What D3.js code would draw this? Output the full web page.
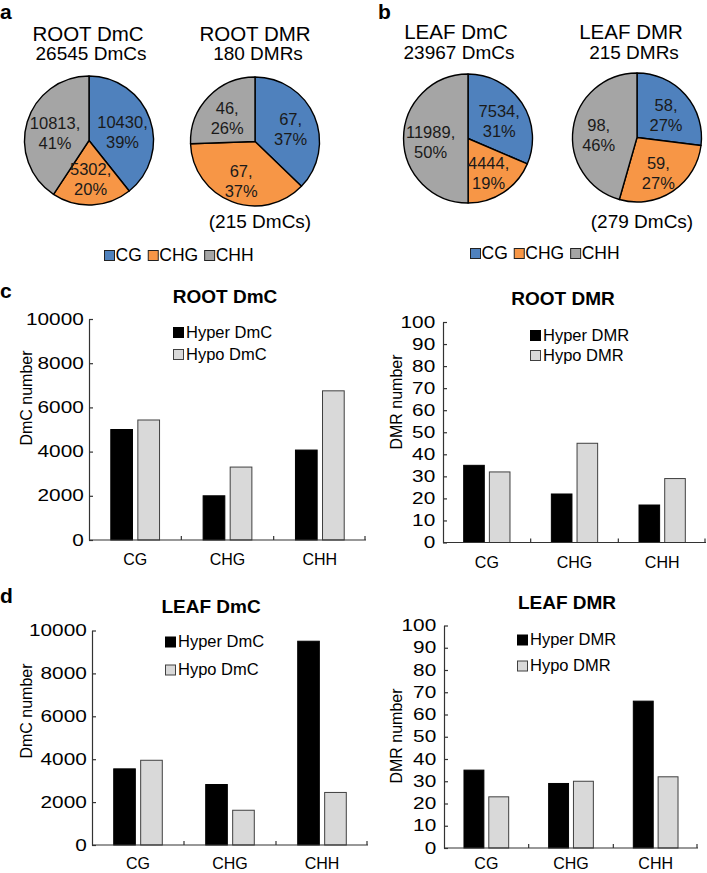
<!DOCTYPE html>
<html>
<head>
<meta charset="utf-8">
<script src="https://cdn.jsdelivr.net/npm/d3@7"></script>
<style>
  html, body { margin: 0; padding: 0; background: #fff; }
  svg { display: block; font-family: "Liberation Sans", Arial, sans-serif; }
</style>
</head>
<body>
<svg id="chart" width="707" height="873"></svg>
<script>
// ---------------- DATA ----------------
const contexts = ["CG", "CHG", "CHH"];
const pieColors = ["#4F81BD", "#F79646", "#A5A5A5"];

const rootDmCValues = [10430, 5302, 10813];
const rootDMRValues = [67, 67, 46];
const leafDmCValues = [7534, 4444, 11989];
const leafDMRValues = [58, 59, 98];

const pieTitles = ["ROOT DmC", "ROOT DMR", "LEAF DmC", "LEAF DMR"];
const pieSubtitles = ["26545 DmCs", "180 DMRs", "23967 DmCs", "215 DMRs"];
const pieNotes = ["", "(215 DmCs)", "", "(279 DmCs)"];

const rootDmCHyper = [5000, 2000, 4070];
const rootDmCHypo  = [5430, 3300, 6750];
const rootDMRHyper = [35, 22, 17];
const rootDMRHypo  = [32, 45, 29];
const leafDmCHyper = [3550, 2820, 9500];
const leafDmCHypo  = [3950, 1620, 2450];
const leafDMRHyper = [35, 29, 66];
const leafDMRHypo  = [23, 30, 32];

const dmcTicks = [0, 2000, 4000, 6000, 8000, 10000];
const dmrTicks = [0, 10, 20, 30, 40, 50, 60, 70, 80, 90, 100];

const barTitles = ["ROOT DmC", "ROOT DMR", "LEAF DmC", "LEAF DMR"];
const yLabels = ["DmC number", "DMR number", "DmC number", "DMR number"];
const dmcLegend = ["Hyper DmC", "Hypo DmC"];
const dmrLegend = ["Hyper DMR", "Hypo DMR"];
const barFill = ["#000000", "#D9D9D9"];
const barStroke = ["#000000", "#404040"];

// ---------------- DRAW ----------------
const svg = d3.select("#chart");

// panel letters
const letters = [
  {t: "a", x: 0, y: 19}, {t: "b", x: 378, y: 19},
  {t: "c", x: 0, y: 298}, {t: "d", x: 0, y: 603}
];
svg.selectAll("text.letter").data(letters).join("text")
  .attr("class", "letter")
  .attr("x", d => d.x).attr("y", d => d.y)
  .attr("font-size", 21).attr("font-weight", "bold")
  .text(d => d.t);

// ---------- pies ----------
const pieLayout = [
  {values: rootDmCValues, cx: 89,  cy: 140.5, tx: 88,  ty: 41, sy: 60, f: 0.55},
  {values: rootDMRValues, cx: 255, cy: 141.5, tx: 255, ty: 41, sy: 60, f: 0.6},
  {values: leafDmCValues, cx: 468, cy: 138.5, tx: 456, ty: 39, sy: 59, f: 0.58},
  {values: leafDMRValues, cx: 637, cy: 137.5, tx: 631, ty: 39, sy: 59, f: 0.6}
];
const R = 64.5;
const pie = d3.pie().sort(null).value(d => d);
const arc = d3.arc().innerRadius(0).outerRadius(R);

pieLayout.forEach((p, i) => {
  const g = svg.append("g");
  g.append("text").attr("x", p.tx).attr("y", p.ty)
    .attr("text-anchor", "middle").attr("font-size", 20.5).text(pieTitles[i]);
  g.append("text").attr("x", p.tx + 3).attr("y", p.sy)
    .attr("text-anchor", "middle").attr("font-size", 19).text(pieSubtitles[i]);
  const total = d3.sum(p.values);
  const arcs = pie(p.values);
  const pg = g.append("g").attr("transform", `translate(${p.cx},${p.cy})`);
  pg.selectAll("path").data(arcs).join("path")
    .attr("d", arc)
    .attr("fill", (d, j) => pieColors[j])
    .attr("stroke", "#000").attr("stroke-width", 1.4)
    .attr("stroke-linejoin", "round");
  arcs.forEach((a, j) => {
    const m = (a.startAngle + a.endAngle) / 2;
    const rl = R * p.f;
    const lx = rl * Math.sin(m), ly = -rl * Math.cos(m);
    const pct = Math.round(100 * a.data / total) + "%";
    const t = pg.append("text").attr("text-anchor", "middle")
      .attr("font-size", 16.5).attr("fill", "#1a1a1a");
    t.append("tspan").attr("x", lx).attr("y", ly - 1).text(a.data + ",");
    t.append("tspan").attr("x", lx).attr("y", ly + 19).text(pct);
  });
  if (pieNotes[i]) {
    g.append("text").attr("x", p.cx + 5).attr("y", 228)
      .attr("text-anchor", "middle").attr("font-size", 19).text(pieNotes[i]);
  }
});

// pie legends
function pieLegend(x0, y0) {
  const g = svg.append("g").attr("transform", `translate(${x0},${y0})`);
  let x = 0;
  contexts.forEach((c, j) => {
    g.append("rect").attr("x", x + 0.5).attr("y", -10.5).attr("width", 10).attr("height", 10)
      .attr("fill", pieColors[j]).attr("stroke", "#222").attr("stroke-width", 1);
    const t = g.append("text").attr("x", x + 11.5).attr("y", 0).attr("font-size", 17.5).text(c);
    x += 11.5 + t.node().getComputedTextLength() + 6;
  });
}
pieLegend(104, 261);
pieLegend(470, 259);

// ---------- bar charts ----------
const barLayout = [
  {hyper: rootDmCHyper, hypo: rootDmCHypo, ticks: dmcTicks, legend: dmcLegend,
   x0: 89, x1: 366, yTop: 319, yBot: 540, pad: 4, tX: 225, tY: 303, yl: [26, 398],
   lgX: 173, lgY: 327.5, lgDy: 22, lab: 25},
  {hyper: rootDMRHyper, hypo: rootDMRHypo, ticks: dmrTicks, legend: dmrLegend,
   x0: 443, x1: 706, yTop: 322, yBot: 542.5, pad: 6, tX: 563, tY: 305, yl: [396, 402],
   lgX: 530, lgY: 330.5, lgDy: 20, lab: 25},
  {hyper: leafDmCHyper, hypo: leafDmCHypo, ticks: dmcTicks, legend: dmcLegend,
   x0: 92, x1: 368, yTop: 630.5, yBot: 845, pad: 4, tX: 211, tY: 613, yl: [26, 711],
   lgX: 165, lgY: 637, lgDy: 28, lab: 24},
  {hyper: leafDMRHyper, hypo: leafDMRHypo, ticks: dmrTicks, legend: dmrLegend,
   x0: 444, x1: 698, yTop: 625.5, yBot: 848, pad: 6, tX: 567, tY: 609, yl: [396, 736],
   lgX: 517, lgY: 635, lgDy: 26, lab: 21}
];

barLayout.forEach((b, i) => {
  const g = svg.append("g");
  const maxV = b.ticks[b.ticks.length - 1];
  const y = d3.scaleLinear().domain([0, maxV]).range([b.yBot, b.yTop]);
  const x = d3.scaleBand().domain(contexts).range([b.x0, b.x1]).padding(0);
  const step = x.bandwidth();
  const bw = step * 0.235, gap = step * 0.058;

  // title
  g.append("text").attr("x", b.tX).attr("y", b.tY).attr("text-anchor", "middle")
    .attr("font-size", 19).attr("font-weight", "bold").text(barTitles[i]);

  // y label
  g.append("text").attr("transform", `translate(${b.yl[0]},${b.yl[1]}) rotate(-90)`)
    .attr("text-anchor", "middle").attr("dominant-baseline", "central")
    .attr("font-size", 16).text(yLabels[i]);

  // bars
  const series = [b.hyper, b.hypo];
  series.forEach((vals, s) => {
    g.append("g").selectAll("rect").data(vals).join("rect")
      .attr("x", (d, j) => x(contexts[j]) + step / 2 - gap / 2 - bw + s * (bw + gap))
      .attr("y", d => y(d))
      .attr("width", bw)
      .attr("height", d => y(0) - y(d))
      .attr("fill", barFill[s])
      .attr("stroke", barStroke[s]).attr("stroke-width", 1);
  });

  // y axis
  const ya = g.append("g").attr("transform", `translate(${b.x0},0)`)
    .call(d3.axisLeft(y).tickValues(b.ticks).tickFormat(d3.format("d"))
      .tickSize(-4).tickSizeOuter(0).tickPadding(b.pad));
  ya.select(".domain").attr("stroke", "#333").attr("stroke-width", 1.2);
  ya.selectAll(".tick line").attr("stroke", "#333").attr("stroke-width", 1.2);
  ya.selectAll(".tick text").attr("font-size", 16).attr("fill", "#000")
    .attr("font-family", "'Liberation Sans', Arial, sans-serif")
    .attr("transform", "scale(1.3,1)");

  // x axis
  const xg = g.append("g");
  xg.append("line").attr("x1", b.x0).attr("x2", b.x1).attr("y1", y(0)).attr("y2", y(0))
    .attr("stroke", "#333").attr("stroke-width", 1.2);
  const bounds = contexts.slice(1).map(c => x(c)).concat([b.x1 - 1]);
  xg.selectAll("line.bt").data(bounds).join("line").attr("class", "bt")
    .attr("x1", d => d).attr("x2", d => d).attr("y1", y(0)).attr("y2", y(0) - 4)
    .attr("stroke", "#333").attr("stroke-width", 1.2);
  xg.selectAll("text").data(contexts).join("text")
    .attr("x", d => x(d) + step / 2).attr("y", y(0) + b.lab)
    .attr("text-anchor", "middle").attr("font-size", 16).text(d => d);

  // legend
  const lg = g.append("g");
  b.legend.forEach((l, s) => {
    lg.append("rect").attr("x", b.lgX + 0.5).attr("y", b.lgY + s * b.lgDy)
      .attr("width", 10).attr("height", 10)
      .attr("fill", barFill[s]).attr("stroke", barStroke[s]).attr("stroke-width", 1);
    lg.append("text").attr("x", b.lgX + 13).attr("y", b.lgY + s * b.lgDy + 10)
      .attr("font-size", 16.5).text(l);
  });
});
</script>
</body>
</html>
